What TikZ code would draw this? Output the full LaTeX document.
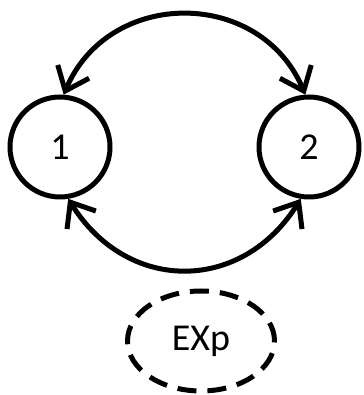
\documentclass[tikz,border=0pt]{standalone}
\usepackage{fontspec}
\setmainfont{Carlito}
\usepackage{tikz}
\usetikzlibrary{automata, positioning, arrows.meta, shapes.geometric}
\tikzset{
x=1pt, y=1pt, % work in points
>={Straight Barb[length=21pt, width=34pt]}, % open barbs on the edges
every state/.style={draw, line width=5pt, minimum size=100pt, inner sep=0pt}, % the two states
edge line/.style={line width=5pt}, % both curved edges
exp box/.style={ellipse, draw, line width=5pt, dash pattern=on 19pt off 11pt, minimum width=147pt, minimum height=100pt}, % the dashed oval
}

\begin{document}
\begin{tikzpicture}[font=\fontsize{38pt}{44pt}\selectfont]
            \useasboundingbox (0,0) rectangle (363,395);

            \node[state] (one) at (60,248) {1};
            \node[state, right of=one, node distance=249pt] (two) {2};
            \node[exp box] (exp) at (201,54) {EXp};

            \draw[edge line, <->] (one.86) to[out=67, in=113, looseness=1.23] (two.94);
            \draw[edge line, <->] (one.-81) to[out=-58, in=-122, looseness=1.23] (two.-99);
        \end{tikzpicture}
\end{document}
